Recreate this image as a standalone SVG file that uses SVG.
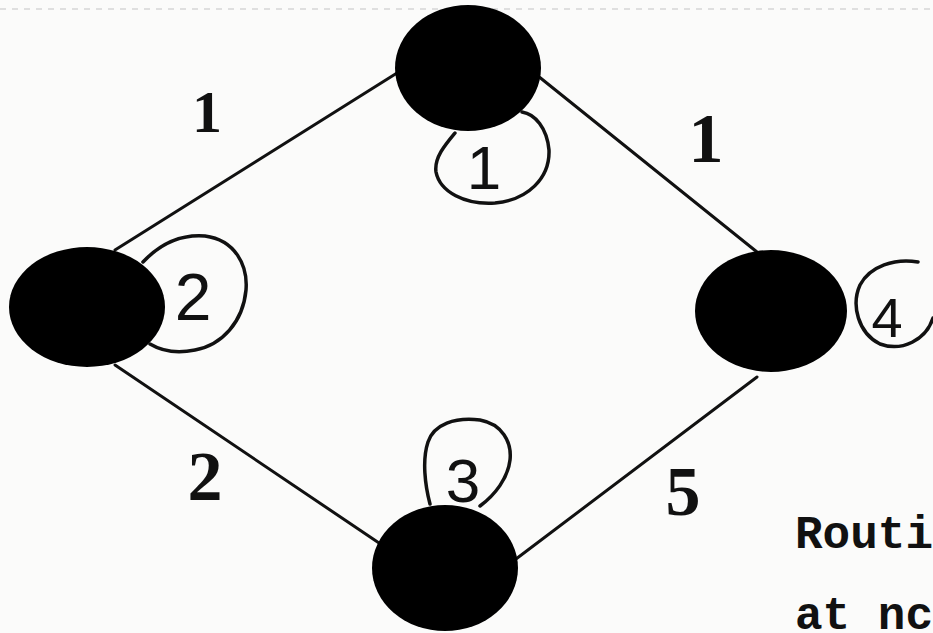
<svg xmlns="http://www.w3.org/2000/svg" width="933" height="633" viewBox="0 0 933 633">
<style>
.node{fill:#000}
.edge{stroke:#111;stroke-width:3;fill:none;stroke-linecap:round}
.loop{stroke:#111;stroke-width:3.5;fill:none;stroke-linecap:round;stroke-linejoin:round}
.w{font-family:"Liberation Serif",serif;font-weight:bold;fill:#111;text-anchor:middle}
.h{font-family:"Liberation Sans",sans-serif;fill:#111;text-anchor:middle}
.cap{font-family:"Liberation Mono",monospace;font-weight:bold;font-size:46px;fill:#111}
</style>
<rect width="933" height="633" fill="#fbfbfa"/>
<line x1="0" y1="9" x2="933" y2="9" stroke="#d6d6d6" stroke-width="1.5" stroke-dasharray="6 6"/>
<g id="connectors">
<line class="edge" x1="115" y1="250" x2="397" y2="73"/>
<line class="edge" x1="538" y1="76" x2="757" y2="252"/>
<line class="edge" x1="115" y1="365" x2="382" y2="545"/>
<line class="edge" x1="512" y1="562" x2="757" y2="377"/>
<text class="w" x="207" y="132" font-size="60">1</text>
<text class="w" x="706" y="162" font-size="70" font-weight="normal">1</text>
<text class="w" x="205" y="500" font-size="70">2</text>
<text class="w" x="683" y="515" font-size="70">5</text>
</g>
<g id="node1">
<ellipse class="node" cx="468" cy="68" rx="73" ry="63"/>
<path class="loop" d="M455,133 C445,145 434,158 436,172 C440,192 465,205 495,203 C528,200 550,178 549,150 C547,128 535,114 522,112"/>
<text class="h" x="484" y="189" font-size="62">1</text>
</g>
<g id="node2">
<ellipse class="node" cx="87" cy="307" rx="78" ry="60"/>
<path class="loop" d="M143,262 C160,244 180,234 205,236 C235,240 248,265 246,290 C243,322 222,345 195,350 C175,354 160,350 150,344"/>
<text class="h" x="193" y="320" font-size="66">2</text>
</g>
<g id="node3">
<ellipse class="node" cx="445" cy="568" rx="73" ry="63"/>
<path class="loop" d="M430,504 C425,485 422,460 428,442 C434,424 455,417 480,420 C502,424 512,442 510,460 C508,478 495,495 480,506"/>
<text class="h" x="463" y="502" font-size="62">3</text>
</g>
<g id="node4">
<ellipse class="node" cx="771" cy="311" rx="76" ry="61"/>
<path class="loop" d="M918,262 C895,258 870,266 860,285 C851,305 858,333 880,344 C902,352 926,340 933,318"/>
<text class="h" x="887" y="337" font-size="56">4</text>
</g>
<text class="cap" x="795" y="548">Routi</text>
<text class="cap" x="795" y="629">at nc</text>
</svg>
